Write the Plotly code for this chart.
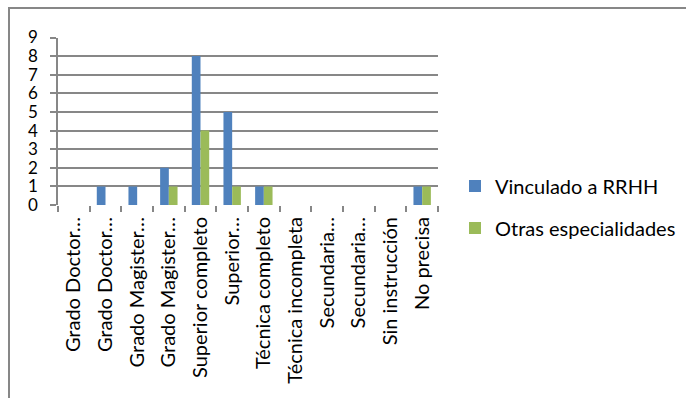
import plotly.graph_objects as go

categories = ["Grado Doctor…", "Grado Doctor…\u200b", "Grado Magister…", "Grado Magister…\u200b",
              "Superior completo", "Superior…", "Técnica completo", "Técnica incompleta",
              "Secundaria…", "Secundaria…\u200b", "Sin instrucción", "No precisa"]
vinculado = [0, 1, 1, 2, 8, 5, 1, 0, 0, 0, 0, 1]
otras = [0, 0, 0, 1, 4, 1, 1, 0, 0, 0, 0, 1]
y_ticks = list(range(0, 10))

W, H = 686, 398
FONT = "Lato"
GRID = "#878787"

def px_x(p):
    return p / W

def px_y(p):
    return 1 - p / H

fig = go.Figure()
fig.add_trace(go.Bar(x=categories, y=vinculado, name="Vinculado a RRHH",
                     marker=dict(color="#4F81BD", line=dict(width=0)), legend="legend"))
fig.add_trace(go.Bar(x=categories, y=otras, name="Otras especialidades",
                     marker=dict(color="#9BBB59", line=dict(width=0)), legend="legend2"))

fig.update_layout(
    template="none",
    width=W, height=H,
    margin=dict(l=0, r=0, t=0, b=0, autoexpand=False),
    paper_bgcolor="white", plot_bgcolor="white",
    font=dict(family=FONT, size=18, color="#000000"),
    barmode="group", bargap=0.45, bargroupgap=0,
    xaxis=dict(domain=[px_x(58), px_x(438)], type="category", automargin=False,
               tickangle=-90, tickson="boundaries", ticks="outside", ticklen=6,
               tickcolor=GRID, tickwidth=1.6, showgrid=False,
               showline=False, zeroline=False,
               tickfont=dict(family=FONT, size=20), ticklabelstandoff=7),
    yaxis=dict(domain=[px_y(205), px_y(37.5)], range=[0, 9], tickvals=y_ticks, automargin=False,
               showgrid=True, gridcolor=GRID, gridwidth=1.6,
               showline=True, linecolor=GRID, linewidth=1.6,
               ticks="outside", ticklen=6, tickcolor=GRID, tickwidth=1.6,
               zeroline=False, tickfont=dict(family=FONT, size=17), ticklabelstandoff=9),
    legend=dict(x=px_x(455), y=px_y(186), xanchor="left", yanchor="middle",
                font=dict(family=FONT, size=20), bgcolor="rgba(0,0,0,0)"),
    legend2=dict(x=px_x(455), y=px_y(228), xanchor="left", yanchor="middle",
                 font=dict(family=FONT, size=20), bgcolor="rgba(0,0,0,0)"),
    shapes=[dict(type="rect", xref="paper", yref="paper",
                 x0=px_x(9), x1=1.02, y0=-0.02, y1=px_y(8),
                 line=dict(color=GRID, width=2), fillcolor="rgba(0,0,0,0)")],
    showlegend=True,
)

fig.write_html("out.html")
